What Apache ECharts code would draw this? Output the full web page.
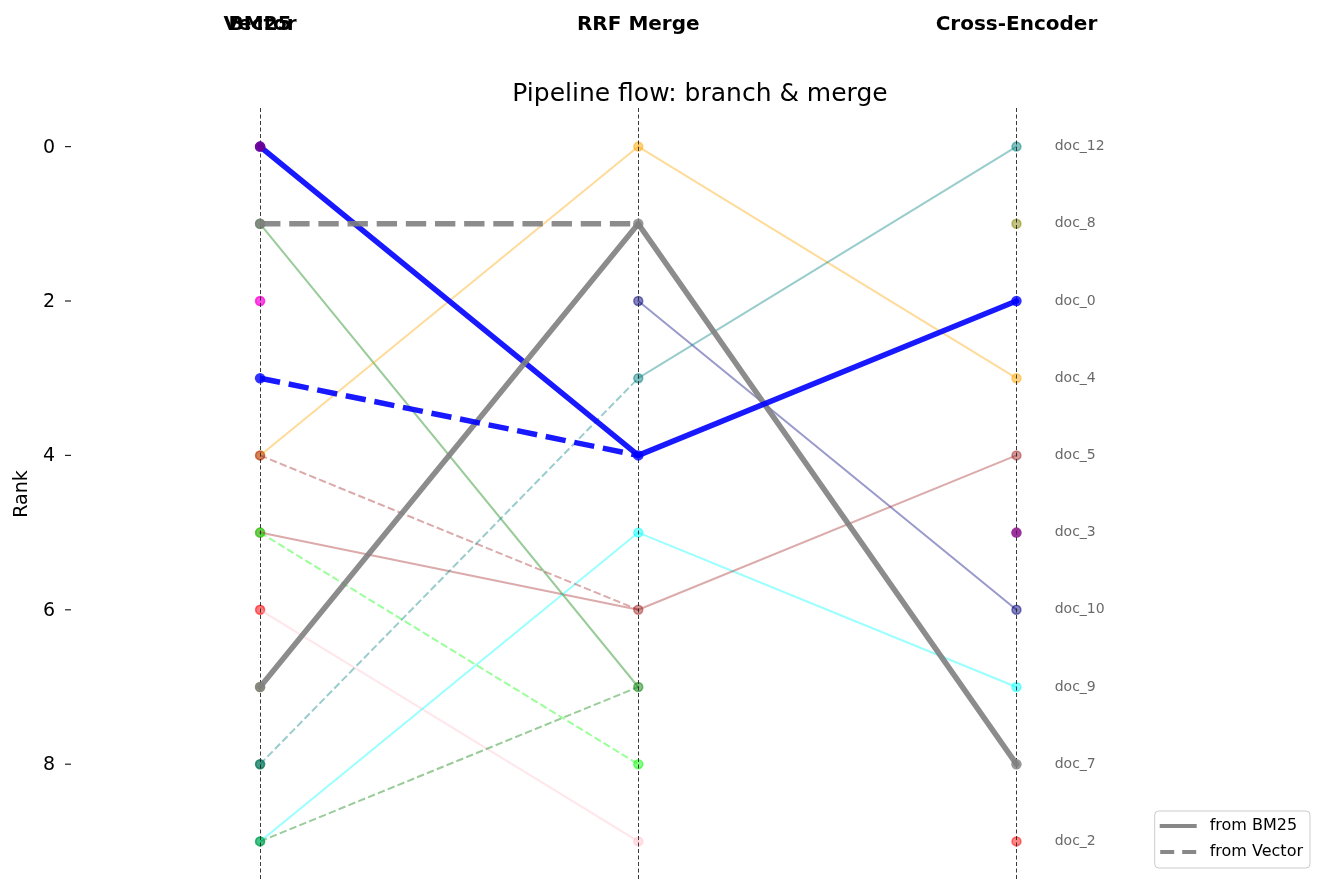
<!DOCTYPE html>
<html>
<head>
<meta charset="utf-8">
<script src="https://cdn.jsdelivr.net/npm/echarts@6/dist/echarts.min.js"></script>
<style>
  html, body { margin: 0; padding: 0; background: #fff; }
  #chart { width: 1334px; height: 892px; }
</style>
</head>
<body>
<div id="chart"></div>
<script>
// stage headers and their x slot (BM25 and Vector share the first column)
const headerLabels = ["BM25", "RRF Merge", "Cross-Encoder"];
const headerSlots = [0, 1, 2];
const vectorHeader = "Vector";
const rankLabels = ["0", "1", "2", "3", "4", "5", "6", "7", "8", "9"];

const docColors = {
  doc_0: "#0000ff", doc_1: "#008000", doc_2: "#ff0000", doc_3: "#800080",
  doc_4: "#ffa500", doc_5: "#a52a2a", doc_6: "#00ff00", doc_7: "#808080",
  doc_8: "#808000", doc_9: "#00ffff", doc_10: "#000080", doc_11: "#ffc0cb",
  doc_12: "#008080", doc_13: "#ff1493", doc_14: "#006400", doc_15: "#ff00ff",
};
const highlightDocs = ["doc_0", "doc_7", "doc_3"];

// rank of each doc in every stage
const bm25Rank = { doc_0: 0, doc_1: 1, doc_13: 2, doc_4: 4, doc_5: 5, doc_11: 6, doc_7: 7, doc_14: 8, doc_9: 9 };
const vectorRank = { doc_3: 0, doc_7: 1, doc_15: 2, doc_0: 3, doc_5: 4, doc_6: 5, doc_2: 6, doc_8: 7, doc_12: 8, doc_1: 9 };
const rrfRank = { doc_4: 0, doc_7: 1, doc_10: 2, doc_12: 3, doc_0: 4, doc_9: 5, doc_5: 6, doc_1: 7, doc_6: 8, doc_11: 9 };
const ceRank = { doc_12: 0, doc_8: 1, doc_0: 2, doc_4: 3, doc_5: 4, doc_3: 5, doc_10: 6, doc_9: 7, doc_7: 8, doc_2: 9 };

function rgba(hex, a) {
  const n = parseInt(hex.slice(1), 16);
  return `rgba(${(n >> 16) & 255},${(n >> 8) & 255},${n & 255},${a})`;
}

const isHi = (d) => highlightDocs.includes(d);

function segment(doc, x0, r0, x1, r1, dashed) {
  const hi = isHi(doc);
  const w = hi ? 5.5 : 2;
  return {
    type: "line",
    data: [[x0, r0], [x1, r1]],
    symbol: "none",
    silent: true,
    z: hi ? 5 : 3,
    lineStyle: {
      color: docColors[doc],
      width: w,
      opacity: hi ? 0.9 : 0.4,
      type: dashed ? [w * 3.7, w * 1.6] : "solid",
      cap: dashed ? "butt" : "round",
    },
  };
}

function stagePoints(rankMap, x, withLabels) {
  const lo = [], hi = [];
  for (const doc of Object.keys(rankMap)) {
    const c = docColors[doc];
    const item = {
      name: doc,
      value: [x, rankMap[doc]],
      itemStyle: isHi(doc)
        ? { color: c, borderColor: c, borderWidth: 0 }
        : { color: rgba(c, 0.6), borderColor: rgba(c, 0.6), borderWidth: 1.5 },
    };
    (isHi(doc) ? hi : lo).push(item);
  }
  const label = withLabels
    ? { show: true, position: "right", distance: 33, formatter: (p) => p.name, fontSize: 14, color: "#444", fontFamily: "DejaVu Sans" }
    : { show: false };
  return [
    { type: "scatter", data: lo, symbolSize: 9, z: 2, label, silent: true },
    { type: "scatter", data: hi, symbolSize: 10.5, z: 6, label, silent: true },
  ];
}

const series = [];

// vertical stage guides
series.push({
  type: "line",
  data: [],
  markLine: {
    silent: true,
    symbol: ["none", "none"],
    label: { show: false },
    lineStyle: { type: [4, 2.5], color: "#222", width: 0.9 },
    data: headerSlots.map((x) => ({ xAxis: x })),
  },
});

series.push(...stagePoints(bm25Rank, 0, false));
series.push(...stagePoints(vectorRank, 0, false));
series.push(...stagePoints(rrfRank, 1, false));
series.push(...stagePoints(ceRank, 2, true));

for (const doc of Object.keys(bm25Rank)) {
  if (doc in rrfRank) series.push(segment(doc, 0, bm25Rank[doc], 1, rrfRank[doc], false));
}
for (const doc of Object.keys(vectorRank)) {
  if (doc in rrfRank) series.push(segment(doc, 0, vectorRank[doc], 1, rrfRank[doc], true));
}
for (const doc of Object.keys(rrfRank)) {
  if (doc in ceRank) series.push(segment(doc, 1, rrfRank[doc], 2, ceRank[doc], false));
}

// legend-only series
series.push({ name: "from BM25", type: "line", data: [], symbol: "none", itemStyle: { color: "#888" } });
series.push({ name: "from Vector", type: "line", data: [], symbol: "none", itemStyle: { color: "#888" } });

const headerAxis = (slots, fmt) => ({
  type: "value",
  position: "top",
  min: -0.5,
  max: 2.8,
  axisLine: { show: false },
  axisTick: { show: false },
  splitLine: { show: false },
  axisLabel: {
    customValues: slots,
    formatter: fmt,
    margin: 73,
    fontSize: 20,
    fontWeight: "bold",
    color: "#000",
    fontFamily: "DejaVu Sans",
  },
});

const chart = echarts.init(document.getElementById("chart"));
chart.setOption({
  animation: false,
  backgroundColor: "#fff",
  textStyle: { fontFamily: "DejaVu Sans" },
  title: {
    text: "Pipeline flow: branch & merge",
    left: 695,
    textAlign: "center",
    top: 77,
    textStyle: { fontSize: 25, fontWeight: "normal", color: "#000", fontFamily: "DejaVu Sans" },
  },
  legend: {
    data: [
      { name: "from BM25", icon: "rect" },
      { name: "from Vector", icon: "path://M0,0H14V4H0Z M22,0H36V4H22Z" },
    ],
    orient: "vertical",
    right: 24,
    bottom: 24,
    itemWidth: 37,
    itemHeight: 4,
    itemGap: 10,
    padding: [7, 7, 8, 5],
    borderColor: "#ccc",
    borderWidth: 1,
    borderRadius: 4,
    itemStyle: { color: "#888", borderWidth: 0 },
    textStyle: { fontSize: 16, color: "#000", fontFamily: "DejaVu Sans", padding: [0, 0, 0, 8] },
  },
  grid: { left: 71, right: 15, top: 108, bottom: 12 },
  xAxis: [
    headerAxis(headerSlots, (v) => headerLabels[headerSlots.indexOf(v)]),
    headerAxis([0], () => vectorHeader),
  ],
  yAxis: {
    type: "category",
    data: rankLabels,
    inverse: true,
    boundaryGap: true,
    name: "Rank",
    nameLocation: "middle",
    nameGap: 33,
    nameTextStyle: { fontSize: 19, color: "#000", fontFamily: "DejaVu Sans" },
    axisLine: { show: false },
    splitLine: { show: false },
    axisTick: { show: false },
    axisLabel: {
      interval: 1,
      margin: 0,
      // matplotlib-style tick mark drawn right of the number
      formatter: (v) => `{n|${v}}{g| }{t| }`,
      rich: {
        n: { fontSize: 19, color: "#000", fontFamily: "DejaVu Sans", verticalAlign: "middle", padding: [2, 0, 0, 0] },
        g: { width: 10, fontSize: 19, verticalAlign: "middle" },
        t: { width: 6, height: 1.2, fontSize: 1, backgroundColor: "#222", verticalAlign: "middle" },
      },
    },
  },
  series,
});
</script>
</body>
</html>
